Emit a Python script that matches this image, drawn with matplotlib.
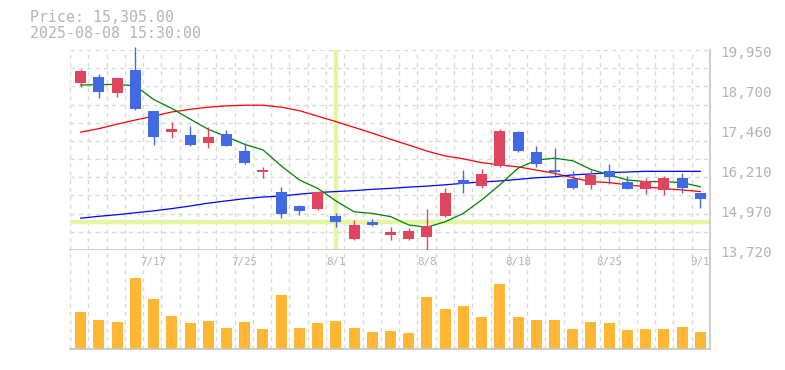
import matplotlib
matplotlib.use('Agg')
import matplotlib.pyplot as plt
import matplotlib.transforms as mtransforms

# 日足データ (2025/7/11 - 9/1)
dates = ['7/11', '7/14', '7/15', '7/16', '7/17', '7/18', '7/22', '7/23', '7/24', '7/25',
         '7/28', '7/29', '7/30', '7/31', '8/1', '8/4', '8/5', '8/6', '8/7', '8/8',
         '8/12', '8/13', '8/14', '8/15', '8/18', '8/19', '8/20', '8/21', '8/22', '8/25',
         '8/26', '8/27', '8/28', '8/29', '9/1']
opens = [18930, 19110, 18620, 19330, 18050, 17400, 17300, 17060, 17330, 16800,
         16150, 15530, 15090, 15000, 14780, 14060, 14590, 14200, 14060, 14130,
         14790, 15900, 15720, 16330, 17400, 16770, 16210, 15930, 15750, 16180,
         15840, 15630, 15600, 15970, 15500]
highs = [19360, 19210, 19090, 20040, 18060, 17710, 17580, 17550, 17470, 17040,
         16320, 15690, 15130, 15540, 14870, 14660, 14690, 14440, 14410, 15000,
         15650, 16210, 16240, 17490, 17430, 16960, 16900, 16180, 16210, 16400,
         16030, 15960, 16030, 16120, 15510]
lows = [18810, 18460, 18500, 18080, 17000, 17220, 16960, 16910, 16950, 16400,
        15970, 14730, 14820, 14970, 14450, 14030, 14480, 14040, 14030, 13700,
        14740, 15500, 15660, 16310, 16780, 16310, 16030, 15630, 15630, 15790,
        15620, 15470, 15440, 15500, 15040]
closes = [19300, 18650, 19080, 18110, 17250, 17490, 17000, 17240, 16960, 16430,
          16210, 14850, 14940, 15530, 14600, 14500, 14500, 14280, 14310, 14470,
          15500, 15790, 16090, 17430, 16810, 16410, 16150, 15660, 16060, 16000,
          15630, 15870, 15970, 15660, 15305]
volumes = [370, 290, 270, 713, 500, 330, 260, 280, 210, 270,
           200, 540, 210, 260, 280, 210, 170, 180, 160, 520,
           400, 430, 320, 650, 320, 290, 290, 200, 270, 260,
           190, 200, 200, 220, 170]

# 移動平均線 (短期 / 中期 / 長期)
ma_short = [18860, 18870, 18880, 18830, 18410, 18130, 17800, 17480, 17250, 17010,
            16840, 16340, 15900, 15640, 15250, 14910, 14860, 14760, 14500, 14430,
            14600, 14860, 15280, 15750, 16270, 16520, 16580, 16500, 16230, 16060,
            15900, 15850, 15850, 15820, 15690]
ma_mid = [17390, 17500, 17640, 17770, 17890, 18020, 18100, 18170, 18210, 18230,
          18230, 18170, 18060, 17890, 17720, 17540, 17360, 17170, 16990, 16800,
          16650, 16560, 16440, 16370, 16310, 16210, 16110, 15970, 15850, 15820,
          15750, 15690, 15630, 15590, 15540]
ma_long = [14710, 14770, 14820, 14880, 14940, 15010, 15090, 15180, 15250, 15320,
           15370, 15400, 15460, 15510, 15540, 15570, 15610, 15640, 15680, 15710,
           15750, 15800, 15840, 15870, 15920, 15970, 16000, 16060, 16090, 16130,
           16150, 16170, 16170, 16170, 16170]

price_ticks = [19950, 18700, 17460, 16210, 14970, 13720]
price_labels = ['19,950', '18,700', '17,460', '16,210', '14,970', '13,720']
date_labels = ['7/17', '7/25', '8/1', '8/8', '8/18', '8/25', '9/1']

cursor_date = '8/1'
header = ['Price: 15,305.00', '2025-08-08 15:30:00']

UP = '#e0455f'
DOWN = '#4169e1'
GRID = '#d9d9d9'
FRAME = '#c4c4c4'
TEXT = '#b4b4b4'
MONO = 'DejaVu Sans Mono'

fig = plt.figure(figsize=(7.85, 3.7), dpi=100)
ax = fig.add_axes([70 / 785, 120 / 370, 640 / 785, 200 / 370])
axv = fig.add_axes([70 / 785, 21 / 370, 640 / 785, 99 / 370])

x = list(range(len(dates)))
for a in (ax, axv):
    a.set_xlim(-0.587, 34.532)
    a.set_xticks([])
    a.set_yticks([])
    for side in ('top', 'left'):
        a.spines[side].set_visible(False)
    for side in ('bottom', 'right'):
        a.spines[side].set_color(FRAME)
        a.spines[side].set_linewidth(1.2)
    # 点線グリッド (縦)
    for k in range(36):
        a.plot([k / 35, k / 35], [0, 1], transform=a.transAxes, color=GRID,
               lw=1, ls=(0, (3, 3)), zorder=0)
ax.set_ylim(13720, 19950)
for k in range(12):
    ax.plot([0, 1], [k / 11, k / 11], transform=ax.transAxes, color=GRID,
            lw=1, ls=(0, (3, 3)), zorder=0)

# クロスヘア
ci = dates.index(cursor_date)
ax.axvline(ci, ymin=0.01, ymax=0.99, color='#e4f5a3', lw=3.2, zorder=1)
ax.axhline(closes[ci], color='#e4f5a3', lw=3.2, zorder=1)

# 移動平均線
ax.plot(x, ma_mid, color='#ff0000', lw=0.9, zorder=2)
ax.plot(x, ma_long, color='#0000ff', lw=0.9, zorder=2)
ax.plot(x, ma_short, color='#008000', lw=0.9, zorder=2)

# ローソク足
colors = [UP if c >= o else DOWN for o, c in zip(opens, closes)]
ax.vlines(x, lows, highs, colors=colors, lw=1.0, zorder=3, clip_on=False)
ax.bar(x, [abs(c - o) for o, c in zip(opens, closes)],
       bottom=[min(o, c) for o, c in zip(opens, closes)],
       width=0.6, color=colors, zorder=4)

# 出来高
axv.bar(x, volumes, width=0.6, color='#ffb733', zorder=2)
axv.set_ylim(0, 990)

# 価格ラベル
trans = mtransforms.blended_transform_factory(ax.transAxes, ax.transData)
for v, lab in zip(price_ticks, price_labels):
    ax.annotate(lab, xy=(1, v), xycoords=trans, xytext=(10, -3),
                textcoords='offset pixels', ha='left', va='center',
                fontsize=10.3, family=MONO, color=TEXT, annotation_clip=False)

# 日付ラベル
dtrans = mtransforms.blended_transform_factory(axv.transData, axv.transAxes)
for d in date_labels:
    axv.text(dates.index(d), 0.88, d, transform=dtrans, ha='center', va='center',
             fontsize=7.8, family=MONO, color=TEXT)

fig.text(30 / 785, 1 - 18 / 370, header[0], ha='left', va='center',
         fontsize=10.7, family=MONO, color=TEXT)
fig.text(30 / 785, 1 - 33.5 / 370, header[1], ha='left', va='center',
         fontsize=10.7, family=MONO, color=TEXT)

fig.savefig('out.png', dpi=100)
